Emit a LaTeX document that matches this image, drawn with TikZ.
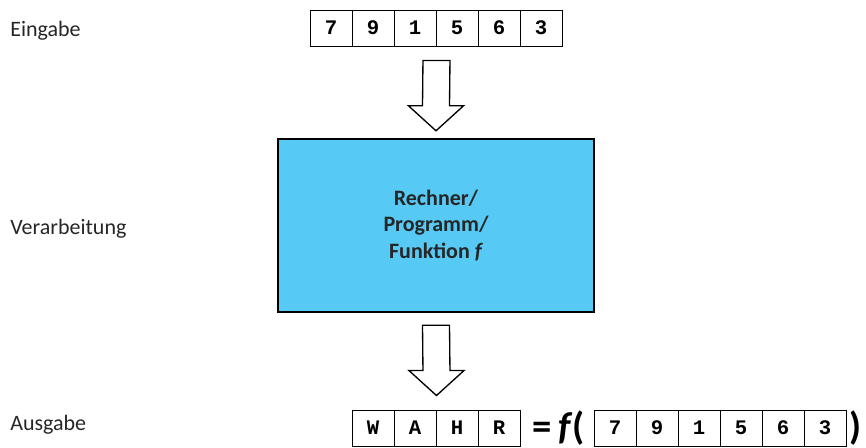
\documentclass[tikz,border=0pt]{standalone}
\usepackage{fontspec}
\setmainfont{Carlito}
\setmonofont{Liberation Mono}
\usetikzlibrary{calc,positioning}

\definecolor{boxblue}{RGB}{86,202,245}

% hollow block arrow from top point #1 down to tip #2
\newcommand{\hollowarrow}[2]{%
  \draw[blockarrow] ($(#1)+(-13.5,0)$) -- ($(#1)+(13.5,0)$) -- ($(#2)+(13.5,-25)$)
    -- ($(#2)+(27.5,-25)$) -- (#2) -- ($(#2)+(-27.5,-25)$) -- ($(#2)+(-13.5,-25)$) -- cycle;}

\begin{document}
\begin{tikzpicture}[x=0.75pt,y=-0.75pt,
    cell/.style={draw, line width=0.7pt, minimum width=31.5pt, minimum height=27pt,
      inner sep=0pt, font=\ttfamily\bfseries\fontsize{15.5}{16}\selectfont},
    lbl/.style={anchor=west, inner sep=0pt, text=black!85,
      font=\fontsize{16.5}{18}\selectfont},
    blockarrow/.style={draw, line width=1pt, fill=white, line join=miter},
    big/.style={inner sep=0pt, font=\bfseries\fontsize{29}{30}\selectfont}]
  \useasboundingbox (0,0) rectangle (866,448);

  % labels
  \node[lbl] (eingabe) at (10,31) {Eingabe};
  \node[lbl] (verarb) at (10,229) {Verarbeitung};
  \node[lbl] (ausgabe) at (10,425) {Ausgabe};

  % input cells
  \foreach \d [count=\i] in {7,9,1,5,6,3}
    \node[cell] (in\i) at ({310+42*(\i-0.5)},28) {\d};

  % processing box
  \node[draw, line width=1.8pt, fill=boxblue, minimum width=237pt, minimum height=129.75pt,
    align=center, font=\bfseries\fontsize{16.5}{19.9}\selectfont, text=black!85]
    (proc) at (436,225.5) {Rechner/\\Programm/\\Funktion \textit{f}};

  % output cells
  \foreach \d [count=\i] in {W,A,H,R}
    \node[cell] (out\i) at ({352+42*(\i-0.5)},428) {\d};
  \node[big, right=9pt of out4] (eq) {=\,\textit{f}(};
  \foreach \d [count=\i] in {7,9,1,5,6,3}
    \node[cell] (arg\i) at ({594+42*(\i-0.5)},428) {\d};
  \node[big, right=2pt of arg6] (rp) {)};

  % arrows
  \coordinate (a1top) at ($(in3.south east)+(0,14)$);
  \coordinate (a1tip) at ($(proc.north)+(0,-7)$);
  \coordinate (a2top) at ($(proc.south)+(0,12)$);
  \coordinate (a2tip) at ($(out2.north east)+(0,-14)$);
  \hollowarrow{a1top}{a1tip}
  \hollowarrow{a2top}{a2tip}
\end{tikzpicture}
\end{document}
